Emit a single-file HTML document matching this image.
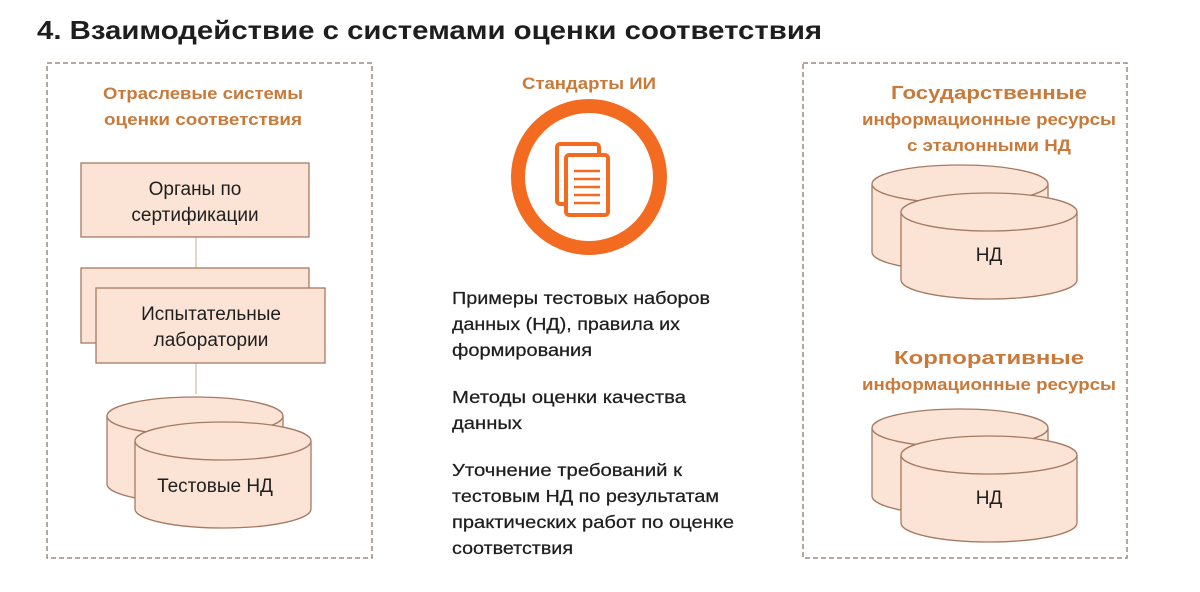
<!DOCTYPE html>
<html><head><meta charset="utf-8"><style>
html,body{margin:0;padding:0;background:#fff;width:1200px;height:592px;overflow:hidden}
svg{display:block}
text{font-family:"Liberation Sans",sans-serif}
</style></head><body>
<svg width="1200" height="592" viewBox="0 0 1200 592">
<text x="37" y="39" font-size="26" font-weight="bold" fill="#1e1e1e" textLength="785" lengthAdjust="spacingAndGlyphs">4. Взаимодействие с системами оценки соответствия</text>

<rect x="47" y="63" width="325" height="495" fill="none" stroke="#9a8a80" stroke-width="1.5" stroke-dasharray="5,3"/>
<rect x="803" y="63" width="324" height="495" fill="none" stroke="#9a8a80" stroke-width="1.5" stroke-dasharray="5,3"/>

<g font-size="17" font-weight="bold" fill="#c9793a" text-anchor="middle">
<text x="203" y="99" textLength="200" lengthAdjust="spacingAndGlyphs">Отраслевые системы</text>
<text x="203" y="125" textLength="198" lengthAdjust="spacingAndGlyphs">оценки соответствия</text>
<text x="589" y="89" textLength="134" lengthAdjust="spacingAndGlyphs">Стандарты ИИ</text>
<text x="989" y="99" font-size="18" textLength="196" lengthAdjust="spacingAndGlyphs">Государственные</text>
<text x="989" y="125" textLength="254" lengthAdjust="spacingAndGlyphs">информационные ресурсы</text>
<text x="989" y="151" textLength="164" lengthAdjust="spacingAndGlyphs">с эталонными НД</text>
<text x="989" y="364" font-size="18" textLength="190" lengthAdjust="spacingAndGlyphs">Корпоративные</text>
<text x="989" y="390" textLength="254" lengthAdjust="spacingAndGlyphs">информационные ресурсы</text>
</g>

<g stroke="#e0c6b4" stroke-width="1.5">
<line x1="196" y1="237" x2="196" y2="268"/>
<line x1="196" y1="363" x2="196" y2="394"/>
</g>
<g fill="#fbe4d5" stroke="#a57a62" stroke-width="1.3">
<rect x="81" y="163" width="228" height="74"/>
<rect x="81" y="268" width="228" height="75"/>
<rect x="96" y="288" width="229" height="75"/>
</g>
<g font-size="19" fill="#1e1e1e" text-anchor="middle">
<text x="195" y="195">Органы по</text>
<text x="195" y="221">сертификации</text>
<text x="211" y="320">Испытательные</text>
<text x="211" y="346">лаборатории</text>
</g>

<defs>
<g id="cyl">
<path d="M0,0 V68 A88,19 0 0 0 176,68 V0" fill="#fbe4d5" stroke="#a57a62" stroke-width="1.3"/>
<ellipse cx="88" cy="0" rx="88" ry="19" fill="#fbe4d5" stroke="#a57a62" stroke-width="1.3"/>
</g>
</defs>
<use href="#cyl" x="107" y="416"/>
<use href="#cyl" x="135" y="441"/>
<use href="#cyl" x="872" y="184"/>
<use href="#cyl" x="901" y="212"/>
<use href="#cyl" x="872" y="428"/>
<use href="#cyl" x="901" y="455"/>
<g font-size="19" fill="#1e1e1e" text-anchor="middle">
<text x="215" y="492">Тестовые НД</text>
<text x="989" y="261">НД</text>
<text x="989" y="504">НД</text>
</g>

<circle cx="589" cy="177" r="71" fill="none" stroke="#f26b21" stroke-width="14"/>
<g fill="#fff" stroke="#f26b21" stroke-width="4" stroke-linejoin="round">
<rect x="557" y="144" width="42" height="60" rx="3"/>
<rect x="566" y="155" width="42" height="60" rx="3"/>
</g>
<g stroke="#f26b21" stroke-width="2.5">
<line x1="574" y1="171" x2="600" y2="171"/>
<line x1="574" y1="179" x2="600" y2="179"/>
<line x1="574" y1="187" x2="600" y2="187"/>
<line x1="574" y1="195" x2="600" y2="195"/>
<line x1="574" y1="203" x2="600" y2="203"/>
</g>

<g font-size="17.5" fill="#1e1e1e" stroke="#1e1e1e" stroke-width="0.25">
<text x="452" y="304" textLength="258" lengthAdjust="spacingAndGlyphs">Примеры тестовых наборов</text>
<text x="452" y="330" textLength="228" lengthAdjust="spacingAndGlyphs">данных (НД), правила их</text>
<text x="452" y="356" textLength="140" lengthAdjust="spacingAndGlyphs">формирования</text>
<text x="452" y="403" textLength="234" lengthAdjust="spacingAndGlyphs">Методы оценки качества</text>
<text x="452" y="429" textLength="70" lengthAdjust="spacingAndGlyphs">данных</text>
<text x="452" y="476" textLength="230" lengthAdjust="spacingAndGlyphs">Уточнение требований к</text>
<text x="452" y="502" textLength="267" lengthAdjust="spacingAndGlyphs">тестовым НД по результатам</text>
<text x="452" y="528" textLength="282" lengthAdjust="spacingAndGlyphs">практических работ по оценке</text>
<text x="452" y="554" textLength="121" lengthAdjust="spacingAndGlyphs">соответствия</text>
</g>
</svg>
</body></html>
